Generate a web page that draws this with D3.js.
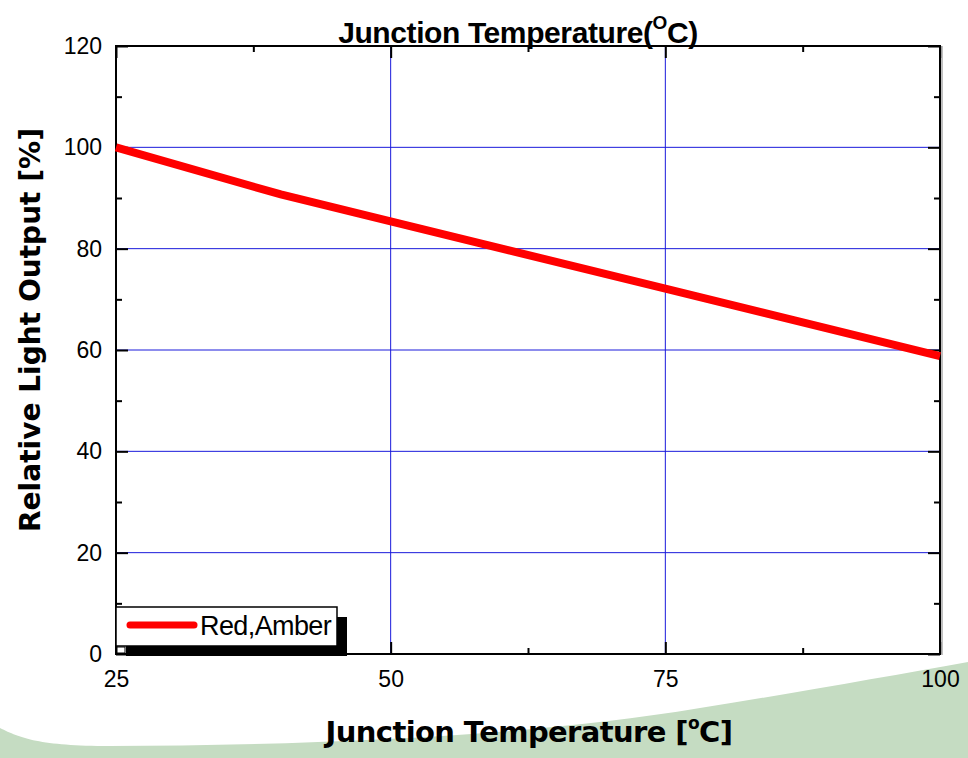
<!DOCTYPE html>
<html>
<head>
<meta charset="utf-8">
<script src="https://cdn.jsdelivr.net/npm/d3@7"></script>
<style>
  body { margin: 0; background: #fff; }
  svg { display: block; }
  .tick text { font-family: "Liberation Sans", Arial, sans-serif; font-size: 23px; fill: #000; }
</style>
</head>
<body>
<svg id="chart"></svg>
<script>
// data
var temps = [25, 40, 50, 75, 100];
var lightOut = [100, 90.7, 85.4, 72.1, 58.8];
var seriesName = "Red,Amber";

var xTickVals = [25, 50, 75, 100];
var xMinorVals = [37.5, 62.5, 87.5];
var yTickVals = [0, 20, 40, 60, 80, 100, 120];
var yMinorVals = [10, 30, 50, 70, 90, 110];
var xGridVals = [50, 75];
var yGridVals = [20, 40, 60, 80, 100];

var W = 968, H = 758;
var margin = { top: 46, right: 28, bottom: 104, left: 116 },
  width = W - margin.left - margin.right,
  height = H - margin.top - margin.bottom;

var svgRoot = d3.select("#chart").attr("width", W).attr("height", H);

// green slide decoration at the bottom
svgRoot.append("path")
  .attr("d", "M0,728 C20,738 40,746 110,746 C300,745 520,738 700,708 C800,692 890,676 968,662 L968,758 L0,758 Z")
  .attr("fill", "#c5dcc2");

var svg = svgRoot.append("g")
  .attr("transform", "translate(" + margin.left + "," + margin.top + ")");

var xScale = d3.scaleLinear().domain([25, 100]).range([0, width]);
var yScale = d3.scaleLinear().domain([0, 120]).range([height, 0]);

// plot background
svg.append("rect").attr("width", width).attr("height", height).attr("fill", "#fff");

// grid
svg.selectAll(".hgrid").data(yGridVals).enter().append("line")
  .attr("x1", 0).attr("x2", width)
  .attr("y1", function(d) { return yScale(d); })
  .attr("y2", function(d) { return yScale(d); })
  .attr("stroke", "#1a1adb").attr("stroke-width", 1);
svg.selectAll(".vgrid").data(xGridVals).enter().append("line")
  .attr("y1", 0).attr("y2", height)
  .attr("x1", function(d) { return xScale(d); })
  .attr("x2", function(d) { return xScale(d); })
  .attr("stroke", "#1a1adb").attr("stroke-width", 1);

// axes (ticks pointing inward)
function styleAxis(g) {
  g.select(".domain").remove();
  g.selectAll(".tick line").attr("stroke", "#000").attr("stroke-width", 2);
}
var xAxis = d3.axisBottom(xScale).tickValues(xTickVals).tickSizeInner(-12).tickSizeOuter(0).tickPadding(17).tickFormat(d3.format("d"));
var yAxis = d3.axisLeft(yScale).tickValues(yTickVals).tickSizeInner(-12).tickSizeOuter(0).tickPadding(14).tickFormat(d3.format("d"));

svg.append("g").attr("transform", "translate(0," + height + ")").call(xAxis).call(styleAxis);
svg.append("g").call(yAxis).call(styleAxis);
svg.append("g").call(d3.axisTop(xScale).tickValues(xTickVals).tickSize(-12).tickFormat("")).call(styleAxis);
svg.append("g").attr("transform", "translate(" + width + ",0)")
  .call(d3.axisRight(yScale).tickValues(yTickVals).tickSize(-12).tickFormat("")).call(styleAxis);

// minor ticks
svg.append("g").call(d3.axisBottom(xScale).tickValues(xMinorVals).tickSize(-6).tickFormat(""))
  .attr("transform", "translate(0," + height + ")").call(styleAxis);
svg.append("g").call(d3.axisTop(xScale).tickValues(xMinorVals).tickSize(-6).tickFormat("")).call(styleAxis);
svg.append("g").call(d3.axisLeft(yScale).tickValues(yMinorVals).tickSize(-6).tickFormat("")).call(styleAxis);
svg.append("g").attr("transform", "translate(" + width + ",0)")
  .call(d3.axisRight(yScale).tickValues(yMinorVals).tickSize(-6).tickFormat("")).call(styleAxis);

// frame
svg.append("line").attr("x1", width + 2).attr("x2", width + 2).attr("y1", 0).attr("y2", height + 1)
  .attr("stroke", "#aaa").attr("stroke-width", 1.5);
svg.append("rect").attr("width", width).attr("height", height)
  .attr("fill", "none").attr("stroke", "#000").attr("stroke-width", 2);

// series
var pts = temps.map(function(t, i) { return { t: t, v: lightOut[i] }; });
var line = d3.line()
  .x(function(d) { return xScale(d.t); })
  .y(function(d) { return yScale(d.v); });
svg.append("path").datum(pts)
  .attr("d", line)
  .attr("fill", "none")
  .attr("stroke", "#ff0000")
  .attr("stroke-width", 8);

// legend with drop shadow
var legend = svg.append("g").attr("transform", "translate(0," + (height - 47) + ")");
legend.append("rect").attr("x", 10).attr("y", 10).attr("width", 221).attr("height", 39).attr("fill", "#000");
legend.append("rect").attr("x", 0).attr("y", 0).attr("width", 221).attr("height", 39)
  .attr("fill", "#fff").attr("stroke", "#000").attr("stroke-width", 1.5);
legend.append("line").attr("x1", 14).attr("x2", 78).attr("y1", 18).attr("y2", 18)
  .attr("stroke", "#ff0000").attr("stroke-width", 7).attr("stroke-linecap", "round");
legend.append("text").attr("x", 84).attr("y", 28)
  .style("font-family", "'Liberation Sans', Arial, sans-serif").style("font-size", "27px")
  .style("letter-spacing", "-0.6px")
  .text(seriesName);
svgRoot.append("rect").attr("x", margin.left + 1).attr("y", margin.top + height - 7)
  .attr("width", 8).attr("height", 6).attr("fill", "#fff").attr("stroke", "#000").attr("stroke-width", 1);

// title
var title = svgRoot.append("text")
  .attr("x", 518).attr("y", 43).attr("text-anchor", "middle")
  .style("font-family", "'Liberation Sans', Arial, sans-serif")
  .style("font-weight", "bold").style("font-size", "30px").style("letter-spacing", "-0.4px");
title.append("tspan").text("Junction Temperature(");
title.append("tspan").attr("dy", -14).style("font-size", "19px").text("O");
title.append("tspan").attr("dy", 14).text("C)");

// x label
var xl = svgRoot.append("text")
  .attr("x", 529).attr("y", 742).attr("text-anchor", "middle")
  .style("font-family", "'DejaVu Sans', Verdana, sans-serif")
  .style("font-weight", "bold").style("font-size", "29px").style("letter-spacing", "-0.6px");
xl.append("tspan").text("Junction Temperature [");
xl.append("tspan").attr("dy", -13).style("font-size", "17px").text("o");
xl.append("tspan").attr("dy", 13).text("C]");

// y label
svgRoot.append("text")
  .attr("transform", "translate(40,330) rotate(-90)")
  .attr("text-anchor", "middle")
  .attr("textLength", 404).attr("lengthAdjust", "spacing")
  .style("font-family", "'DejaVu Sans', Verdana, sans-serif")
  .style("font-weight", "bold").style("font-size", "28px")
  .text("Relative Light Output [%]");
</script>
</body>
</html>
